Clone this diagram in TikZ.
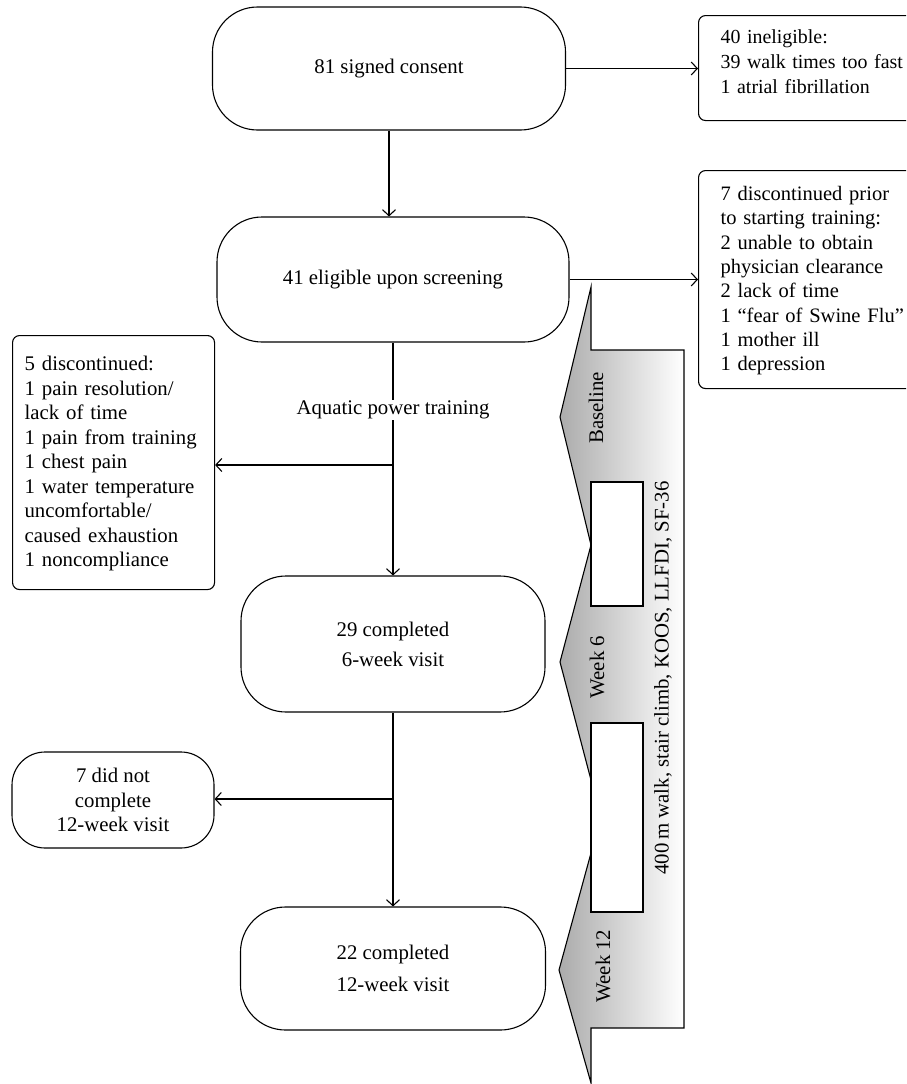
\documentclass[tikz,border=0pt]{standalone}
\usepackage{fontspec}
\setmainfont{Liberation Serif}
\usetikzlibrary{arrows.meta}
\begin{document}
\begin{tikzpicture}[x=1pt,y=1pt,
  every node/.style={font=\fontsize{20.8}{24.5}\selectfont},
  ln/.style={line width=1.1pt},
  arr/.style={ln,-{Straight Barb[length=6pt,width=13pt,line width=1.1pt]}},
  stadium/.style={draw,ln,rounded corners=45pt,align=center,inner sep=0pt},
  sidebox/.style={draw,ln,rounded corners=7pt,align=left,anchor=north west,inner xsep=22pt,inner ysep=0pt,text width=220pt},
]
\useasboundingbox (0,0) rectangle (906,-1084);
\clip (0,0) rectangle (906,-1084);

% time-line shape on the right
\shade[left color=black!33,right color=white,draw=black,ln]
  (591,-287) -- (591,-350) -- (684,-350) -- (684,-1028) -- (591,-1028) -- (591,-1083)
  -- (559,-970) -- (591,-853) -- (591,-780) -- (560,-662) -- (591,-545) -- (560,-417) -- cycle;
\draw[ln,fill=white] (591,-482) rectangle (643,-606);
\draw[ln,fill=white] (591,-723) rectangle (643,-912);
\node[rotate=90] (tbase) at (596,-408) {Baseline};
\node[rotate=90] (tw6) at (597,-667) {Week 6};
\node[rotate=90] (tw12) at (603,-966) {Week 12};
\node[rotate=90] (tmeas) at (663,-678) {400\,m walk, stair climb, KOOS, LLFDI, SF-36};

% main nodes
\node[stadium,minimum width=353pt,minimum height=123pt] (consent) at (389,-68.5) {81 signed consent};
\node[stadium,minimum width=352pt,minimum height=125pt] (eligible) at (393,-279.5) {41 eligible upon screening};
\node[stadium,minimum width=304pt,minimum height=136pt] (done6) at (393,-644) {29 completed\\[5.5pt]6-week visit};
\node[stadium,minimum width=305pt,minimum height=123pt] (done12) at (393,-968.5) {22 completed\\[8pt]12-week visit};
\node[stadium,rounded corners=33pt,minimum width=202pt,minimum height=96pt] (notdone) at (113,-800) {7 did not\\complete\\12-week visit};

% side boxes
\node[sidebox,font=\fontsize{19.9}{25}\selectfont,text height=28pt,text depth=77pt,minimum height=105pt] (inelig) at (698,-15) {40 ineligible:\\39 walk times too fast\\1 atrial fibrillation};
\node[sidebox,font=\fontsize{20.5}{24.3}\selectfont,text height=30pt,text depth=188pt,minimum height=218pt] (disc7) at (698,-170) {7 discontinued prior\\to starting training:\\2 unable to obtain\\physician clearance\\2 lack of time\\1 “fear of Swine Flu”\\1 mother ill\\1 depression};
\node[draw,ln,rounded corners=7pt,align=left,anchor=north west,inner xsep=12pt,inner ysep=0pt,text width=178pt,text height=35pt,text depth=219pt,minimum height=254pt] (disc5) at (12,-335) {5 discontinued:\\1 pain resolution/\\lack of time\\1 pain from training\\1 chest pain\\1 water temperature\\uncomfortable/\\caused exhaustion\\1 noncompliance};

% connectors
\draw[arr] (consent.south) -- (consent.south |- eligible.north);
\draw[arr] (consent.east) -- (consent.east -| inelig.west);
\draw[arr] (eligible.east) -- (eligible.east -| disc7.west);
\draw[arr] (eligible.south) -- (done6.north);
\node[fill=white,inner xsep=2pt,inner ysep=1pt] (apt) at (393,-410) {Aquatic power training};
\coordinate (b1) at (393,-465);
\draw[arr] (b1) -- (b1 -| disc5.east);
\draw[arr] (done6.south) -- (done12.north);
\coordinate (b2) at (393,-799);
\draw[arr] (b2) -- (b2 -| notdone.east);
\end{tikzpicture}
\end{document}
